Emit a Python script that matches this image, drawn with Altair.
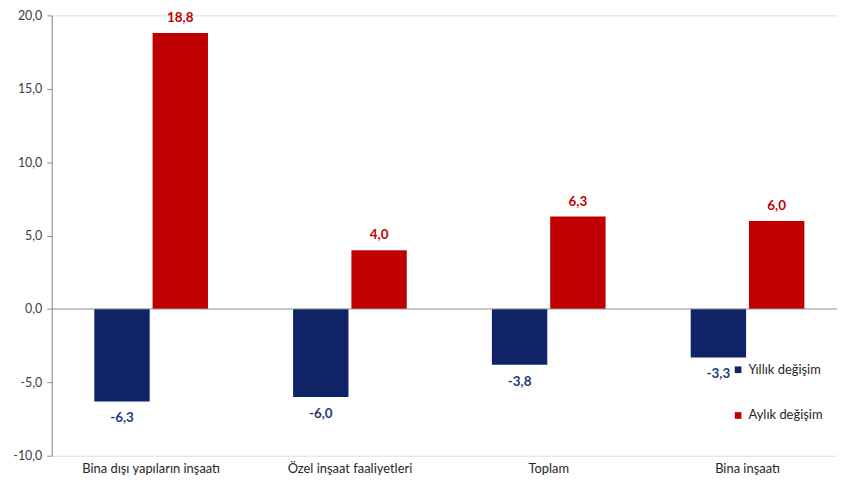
import altair as alt
import pandas as pd

categories = ["Bina dışı yapıların inşaatı", "Özel inşaat faaliyetleri", "Toplam", "Bina inşaatı"]
series = ["Yıllık değişim", "Aylık değişim"]
yillik = [-6.3, -6.0, -3.8, -3.3]
aylik = [18.8, 4.0, 6.3, 6.0]
y_ticks = [-10, -5, 0, 5, 10, 15, 20]

rows = []
for c, a, b in zip(categories, yillik, aylik):
    rows.append({"cat": c, "series": series[0], "value": a})
    rows.append({"cat": c, "series": series[1], "value": b})
df = pd.DataFrame(rows)

FONT = "Lato"
BLUE = "#0f2366"
RED = "#c00000"
FMT = "replace(replace(format(datum.value, '.1f'), '.', ','), '\u2212', '-')"

x_enc = alt.X("cat:N", sort=categories, title=None,
              scale=alt.Scale(paddingInner=0, paddingOuter=0, range=[0, 800]),
              axis=alt.Axis(orient="bottom", labelAngle=0, ticks=False, domain=False,
                            labelPadding=7, labelFontSize=13, labelColor="#262626",
                            labelFont=FONT))
xoff = alt.XOffset("series:N", sort=series,
                   scale=alt.Scale(paddingInner=0.05, paddingOuter=0.73))
y_enc = alt.Y("value:Q", title=None,
              scale=alt.Scale(domain=[-10, 20], nice=False),
              axis=alt.Axis(values=y_ticks, grid=False, domainColor="#8c8c8c",
                            tickColor="#8c8c8c", tickSize=5, labelPadding=5,
                            labelFontSize=12.5, labelColor="#404040", labelFont=FONT,
                            labelExpr=FMT))

base = alt.Chart(df).encode(x=x_enc, xOffset=xoff)

bars = base.mark_bar().encode(
    y=y_enc,
    color=alt.Color("series:N", sort=series,
                    scale=alt.Scale(domain=series, range=[BLUE, RED]),
                    legend=alt.Legend(title=None, orient="none", legendX=684, legendY=350,
                                      symbolType="square", symbolSize=45,
                                      rowPadding=32, labelFontSize=13, labelOffset=4,
                                      labelFont=FONT, labelColor="#262626")),
)

lab = base.transform_calculate(label=FMT)
pos_labels = lab.transform_filter("datum.value >= 0").mark_text(
    baseline="bottom", dy=-8, fontWeight="bold", fontSize=13.5, font=FONT, color=RED
).encode(y="value:Q", text="label:N")
neg_labels = lab.transform_filter("datum.value < 0").mark_text(
    baseline="top", dy=10, fontWeight="bold", fontSize=13.5, font=FONT, color="#1f3a7a"
).encode(y="value:Q", text="label:N")

zero = alt.Chart(pd.DataFrame({"z": [0]})).mark_rule(color="#8c8c8c", strokeWidth=1).encode(
    y=alt.Y("z:Q"))

chart = alt.layer(bars, zero, pos_labels, neg_labels).properties(
    width=790, height=443,
    autosize=alt.AutoSizeParams(type="none"),
    padding={"left": 44, "top": 6, "right": 0, "bottom": 28},
).configure_view(strokeWidth=0).configure(background="white")

chart.save("out.html", embed_options={"renderer": "svg", "actions": False})
